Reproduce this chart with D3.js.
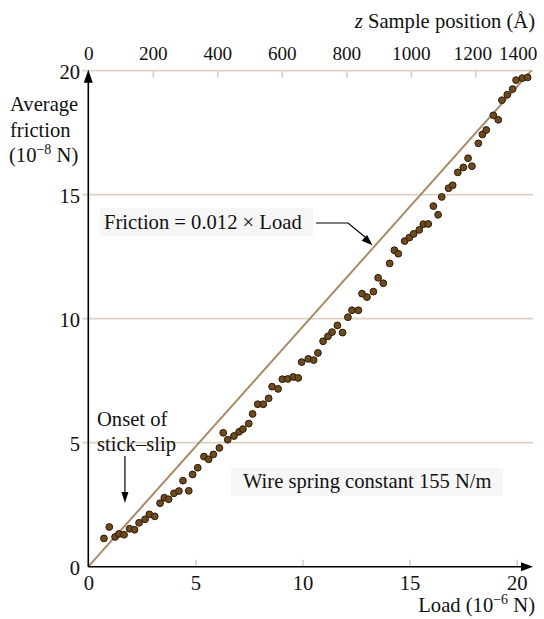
<!DOCTYPE html>
<html>
<head>
<meta charset="utf-8">
<script src="https://cdn.jsdelivr.net/npm/d3@7"></script>
<style>
  html, body { margin: 0; padding: 0; background: #fff; }
  svg text { font-family: "Liberation Serif", "Times New Roman", serif; fill: #111; }
</style>
</head>
<body>
<svg id="chart" width="544" height="619"></svg>
<script>
// Measured load (10^-6 N) and average friction (10^-8 N)
const loadValues = [
  0.73, 0.98, 1.25, 1.43, 1.67, 1.93, 2.16, 2.37, 2.65, 2.85,
  3.10, 3.35, 3.55, 3.75, 4.00, 4.23, 4.42, 4.69, 4.87, 5.11,
  5.40, 5.62, 5.84, 6.12, 6.30, 6.51, 6.80, 7.04, 7.22, 7.49,
  7.67, 7.91, 8.17, 8.42, 8.58, 8.86, 9.06, 9.31, 9.57, 9.80,
  9.96, 10.27, 10.52, 10.72, 10.96, 11.19, 11.38, 11.63, 11.87, 12.12,
  12.31, 12.61, 12.78, 13.01, 13.31, 13.53, 13.77, 14.07, 14.29, 14.47,
  14.77, 14.99, 15.19, 15.45, 15.64, 15.87, 16.11, 16.33, 16.50, 16.82,
  17.01, 17.25, 17.51, 17.73, 17.91, 18.21, 18.40, 18.58, 18.91, 19.14,
  19.31, 19.56, 19.81, 19.97, 20.26, 20.51
];
const frictionValues = [
  1.14, 1.60, 1.20, 1.32, 1.29, 1.53, 1.49, 1.77, 1.91, 2.11,
  2.03, 2.56, 2.78, 2.72, 2.96, 3.05, 3.47, 3.06, 3.72, 3.99,
  4.44, 4.33, 4.53, 4.79, 5.40, 5.12, 5.27, 5.44, 5.55, 5.77,
  6.16, 6.55, 6.55, 6.79, 7.26, 7.17, 7.56, 7.57, 7.65, 7.61,
  8.25, 8.38, 8.33, 8.62, 9.09, 9.29, 9.46, 9.73, 9.44, 10.06,
  10.34, 10.34, 11.01, 10.87, 11.09, 11.65, 11.43, 12.23, 12.76, 12.62,
  13.13, 13.27, 13.42, 13.58, 13.81, 13.82, 14.54, 14.19, 14.91, 15.26,
  15.38, 15.90, 16.10, 16.47, 16.15, 17.07, 17.43, 17.61, 18.20, 18.02,
  18.81, 19.03, 19.26, 19.62, 19.70, 19.73
];

// Axis ticks
const loadTicks = [0, 5, 10, 15, 20];
const frictionTicks = [0, 5, 10, 15, 20];
const positionTicks = [0, 200, 400, 600, 800, 1000, 1200, 1400];

// Fitted line through the origin, in plot units
const fitSlope = 0.967;
const fitFrictionEnd = 20;

const FONT = "20.6px";
const TOP_FONT = "19.2px";
const SUP = "14px";

const svg = d3.select("#chart");

const x = d3.scaleLinear().domain([0, 20]).range([88.3, 516.7]);
const y = d3.scaleLinear().domain([0, 20]).range([566.7, 70.7]);
// sample position axis: the last label sits at the right end of the frame
const z = d3.scaleLinear().domain([0, 1200, 1400]).range([88.3, 475.3, 516.7]);

const gridColor = "#dbd2c3";
const fitColor = "#a88b69";
const xEnd = 533;

// horizontal grid lines (the one at 20 doubles as the top axis line)
svg.append("g")
  .selectAll("line")
  .data(frictionTicks.filter(d => d > 0))
  .join("line")
  .attr("x1", x(0) - 6)
  .attr("x2", xEnd)
  .attr("y1", d => y(d))
  .attr("y2", d => y(d))
  .attr("stroke", gridColor)
  .attr("stroke-width", 1.7);

// top axis: sample position
const topAxis = d3.axisBottom(z)
  .tickValues(positionTicks)
  .tickSize(7)
  .tickFormat(d3.format("d"));
const gTop = svg.append("g")
  .attr("transform", `translate(0,${y(20)})`)
  .call(topAxis);
gTop.select(".domain").remove();
gTop.selectAll(".tick line")
  .attr("stroke", gridColor)
  .attr("stroke-width", 1.7)
  .attr("opacity", d => (d === 0 || d === 1400) ? 0 : 1);
gTop.selectAll(".tick text")
  .attr("y", -11)
  .attr("dy", 0)
  .attr("dx", d => d === 1200 ? -3 : (d === 1400 ? 1 : 0))
  .style("font-size", TOP_FONT)
  .style("font-family", "'Liberation Serif', 'Times New Roman', serif")
  .attr("fill", "#111");

// bottom axis: load
const bottomAxis = d3.axisTop(x).tickValues(loadTicks).tickSize(7);
const gBottom = svg.append("g")
  .attr("transform", `translate(0,${y(0)})`)
  .call(bottomAxis);
gBottom.select(".domain").remove();
gBottom.selectAll(".tick line")
  .attr("stroke", gridColor)
  .attr("stroke-width", 1.7)
  .attr("opacity", d => d === 0 ? 0 : 1);
gBottom.selectAll(".tick text")
  .attr("y", 23)
  .attr("dy", 0)
  .style("font-size", FONT)
  .style("font-family", "'Liberation Serif', 'Times New Roman', serif")
  .attr("fill", "#111");

// left axis labels
svg.append("g")
  .selectAll("text")
  .data(frictionTicks)
  .join("text")
  .attr("x", 80)
  .attr("y", d => y(d) + 8)
  .attr("text-anchor", "end")
  .style("font-size", FONT)
  .text(d => d);

// fitted line
svg.append("line")
  .attr("x1", x(0))
  .attr("y1", y(0))
  .attr("x2", x(fitFrictionEnd / fitSlope))
  .attr("y2", y(fitFrictionEnd))
  .attr("stroke", fitColor)
  .attr("stroke-width", 2);

// axis lines with arrow heads
svg.append("line")
  .attr("x1", x(0)).attr("y1", y(0))
  .attr("x2", x(0)).attr("y2", y(20) + 8)
  .attr("stroke", "#000").attr("stroke-width", 1.6);
svg.append("path")
  .attr("d", `M${x(0)},${y(20) - 1} L${x(0) - 4.5},${y(20) + 12} L${x(0) + 4.5},${y(20) + 12} Z`)
  .attr("fill", "#000");
svg.append("line")
  .attr("x1", x(0)).attr("y1", y(0))
  .attr("x2", xEnd - 8).attr("y2", y(0))
  .attr("stroke", "#000").attr("stroke-width", 1.6);
svg.append("path")
  .attr("d", `M${xEnd},${y(0)} L${xEnd - 12},${y(0) - 4.5} L${xEnd - 12},${y(0) + 4.5} Z`)
  .attr("fill", "#000");

// measured points
const points = loadValues.map((l, i) => ({ load: l, friction: frictionValues[i] }));
svg.append("g")
  .selectAll("circle")
  .data(points)
  .join("circle")
  .attr("cx", d => x(d.load))
  .attr("cy", d => y(d.friction))
  .attr("r", 3.4)
  .attr("fill", "#6e4a1c")
  .attr("stroke", "#2b1c0a")
  .attr("stroke-width", 1);

// axis titles
const title = svg.append("text")
  .attr("x", 535).attr("y", 28)
  .attr("text-anchor", "end")
  .style("font-size", FONT);
title.append("tspan").style("font-style", "italic").text("z");
title.append("tspan").text(" Sample position (Å)");

const loadTitle = svg.append("text")
  .attr("x", 535).attr("y", 612)
  .attr("text-anchor", "end")
  .style("font-size", FONT);
loadTitle.append("tspan").text("Load (10");
loadTitle.append("tspan").attr("dy", -8).style("font-size", SUP).text("−6");
loadTitle.append("tspan").attr("dy", 8).text(" N)");

const yTitle = svg.append("g").style("font-size", FONT);
yTitle.append("text").attr("x", 10).attr("y", 111).text("Average");
yTitle.append("text").attr("x", 10).attr("y", 137).text("friction");
const yUnit = yTitle.append("text").attr("x", 9).attr("y", 162);
yUnit.append("tspan").text("(10");
yUnit.append("tspan").attr("dy", -8).style("font-size", SUP).text("−8");
yUnit.append("tspan").attr("dy", 8).text(" N)");

// fit annotation
svg.append("rect")
  .attr("x", 100).attr("y", 208).attr("width", 213).attr("height", 28)
  .attr("fill", "#f6f6f6");
svg.append("text")
  .attr("x", 104).attr("y", 229)
  .style("font-size", FONT)
  .text("Friction = 0.012 × Load");
const fitArrowFriction = 12.9;
const tipX = x(fitArrowFriction / fitSlope) - 1.5;
const tipY = y(fitArrowFriction) - 1.5;
svg.append("path")
  .attr("d", `M316,223 L348,223 L${tipX - 6},${tipY - 7}`)
  .attr("fill", "none")
  .attr("stroke", "#000")
  .attr("stroke-width", 1.2);
{
  const ang = Math.atan2(tipY - 223, tipX - 348);
  const len = 11, hw = 4;
  const bx = tipX - len * Math.cos(ang), by = tipY - len * Math.sin(ang);
  const px = -Math.sin(ang) * hw, py = Math.cos(ang) * hw;
  svg.append("path")
    .attr("d", `M${tipX},${tipY} L${bx + px},${by + py} L${bx - px},${by - py} Z`)
    .attr("fill", "#000");
}

// stick-slip annotation
svg.append("text").attr("x", 97).attr("y", 426).style("font-size", FONT).text("Onset of");
svg.append("text").attr("x", 97).attr("y", 451).style("font-size", FONT).text("stick–slip");
const onsetLoad = 1.71, onsetFriction = 2.57;
svg.append("line")
  .attr("x1", x(onsetLoad)).attr("y1", 456)
  .attr("x2", x(onsetLoad)).attr("y2", y(onsetFriction) - 8)
  .attr("stroke", "#000").attr("stroke-width", 1.2);
svg.append("path")
  .attr("d", `M${x(onsetLoad)},${y(onsetFriction)} L${x(onsetLoad) - 3.5},${y(onsetFriction) - 11} L${x(onsetLoad) + 3.5},${y(onsetFriction) - 11} Z`)
  .attr("fill", "#000");

// spring constant note
svg.append("rect")
  .attr("x", 231).attr("y", 468).attr("width", 272).attr("height", 28)
  .attr("fill", "#f6f6f6");
svg.append("text")
  .attr("x", 243).attr("y", 488)
  .style("font-size", FONT)
  .text("Wire spring constant 155 N/m");
</script>
</body>
</html>
